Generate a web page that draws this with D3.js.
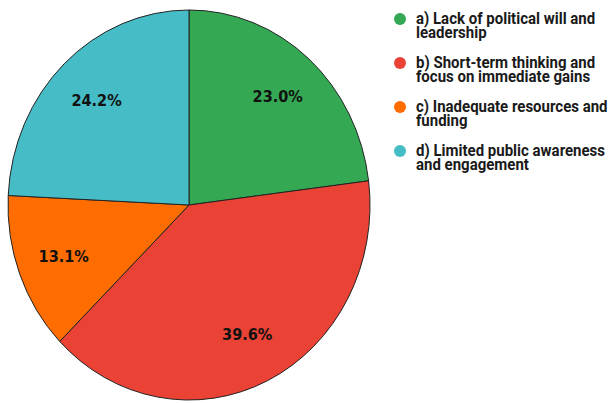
<!DOCTYPE html>
<html>
<head>
<meta charset="utf-8">
<script src="https://cdn.jsdelivr.net/npm/d3@7"></script>
<style>
  body { margin: 0; background: #fff; }
  svg { display: block; }
</style>
</head>
<body>
<div id="chart"></div>
<script>
// Data
const categories = [
  ["a) Lack of political will and", "leadership"],
  ["b) Short-term thinking and", "focus on immediate gains"],
  ["c) Inadequate resources and", "funding"],
  ["d) Limited public awareness", "and engagement"]
];
const shares = [23.0, 39.6, 13.1, 24.2];
const colors = ["#34A853", "#EA4335", "#FF6D01", "#46BDC6"];

const W = 610, H = 403;
const cx = 189, cy = 205;
const rx = 181, ry = 195;   // the source picture is slightly stretched vertically
const sy = ry / rx;

var svg = d3.select("#chart").append("svg")
    .attr("width", W)
    .attr("height", H);

const pie = d3.pie().sort(null).value(d => d);
const arcs = pie(shares);
const arc = d3.arc().innerRadius(0).outerRadius(rx);
const labelArc = d3.arc().innerRadius(134).outerRadius(134);

const g = svg.append("g")
    .attr("transform", `translate(${cx},${cy}) scale(1,${sy})`);

g.selectAll("path")
  .data(arcs)
  .enter().append("path")
    .attr("d", arc)
    .attr("fill", (d, i) => colors[i])
    .attr("stroke", "#222")
    .attr("stroke-width", 1)
    .attr("vector-effect", "non-scaling-stroke");

// labels, stretched like the source
svg.append("g")
    .attr("transform", `translate(${cx},${cy})`)
  .selectAll("text")
  .data(arcs)
  .enter().append("text")
    .attr("transform", d => {
      const c = labelArc.centroid(d);
      return `translate(${c[0]},${c[1] * sy}) scale(1,1.1)`;
    })
    .attr("text-anchor", "middle")
    .attr("dominant-baseline", "central")
    .attr("font-family", "'DejaVu Sans', sans-serif")
    .attr("font-weight", "bold")
    .attr("font-size", 14.5)
    .attr("fill", "#111")
    .text(d => d.data.toFixed(1) + "%");

// legend
const legend = svg.append("g")
  .selectAll("g")
  .data(categories)
  .enter().append("g")
    .attr("transform", (d, i) => `translate(400,${24 + i * 44})`);

legend.append("circle")
    .attr("cx", 0)
    .attr("cy", -5)
    .attr("r", 6)
    .attr("fill", (d, i) => colors[i]);

legend.append("text")
    .attr("transform", "scale(1,1.08)")
    .attr("font-family", "Roboto, sans-serif")
    .attr("font-weight", "bold")
    .attr("font-size", 15)
    .attr("fill", "#1a1a1a")
  .selectAll("tspan")
  .data(d => d)
  .enter().append("tspan")
    .attr("x", 16)
    .attr("y", (d, i) => i * 13.4)
    .text(d => d);
</script>
</body>
</html>
